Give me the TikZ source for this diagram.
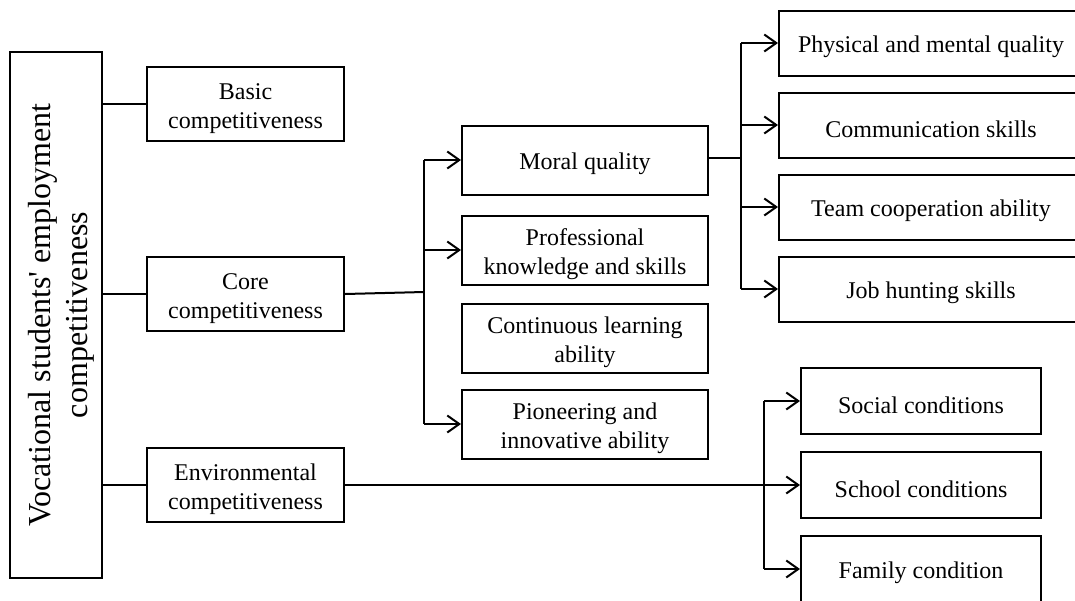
\documentclass[tikz,border=0pt]{standalone}
\usepackage{fontspec}
\setmainfont{Liberation Serif}
\usetikzlibrary{arrows.meta}
\newcommand{\mysr}{\rule{0pt}{12.5pt}}
\newcommand{\mysrb}{\rule{0pt}{16.5pt}}
\begin{document}
\begin{tikzpicture}[x=0.5pt,y=-0.5pt,
  box/.style={draw,line width=1pt,inner sep=0pt,align=center,font=\fontsize{12}{14.5}\selectfont},
  con/.style={line width=1pt},
  arr/.style={line width=1pt,-{Straight Barb[length=6pt,width=8.5pt,line width=1pt]}}]
\useasboundingbox (0,0) rectangle (1075,600);
\clip (0,0) rectangle (1075,600);
% root
\node[box,rotate=90,minimum width=263pt,minimum height=46pt,font=\fontsize{16}{18.5}\selectfont] (root) at (56,315) {\mysrb Vocational students\textquotesingle{} employment\\competitiveness};
% level 1
\node[box,minimum width=98.5pt,minimum height=37pt] (basic) at (245.5,104) {\mysr Basic\\competitiveness};
\node[box,minimum width=98.5pt,minimum height=37pt] (core) at (245.5,294) {\mysr Core\\competitiveness};
\node[box,minimum width=98.5pt,minimum height=37pt] (env) at (245.5,485) {\mysr Environmental\\competitiveness};
% level 2
\node[box,minimum width=123pt,minimum height=34.5pt] (moral) at (585,160) {\mysr Moral quality};
\node[box,minimum width=123pt,minimum height=34.5pt] (prof) at (585,250) {\mysr Professional\\knowledge and skills};
\node[box,minimum width=123pt,minimum height=34.5pt] (cont) at (585,338) {\mysr Continuous learning\\ability};
\node[box,minimum width=123pt,minimum height=34.5pt] (pion) at (585,424) {\mysr Pioneering and\\innovative ability};
% level 3 (moral)
\node[box,minimum width=152pt,minimum height=32.5pt] (phys) at (931,43) {\mysr Physical and mental quality};
\node[box,minimum width=152pt,minimum height=32.5pt] (comm) at (931,125) {\mysr Communication skills};
\node[box,minimum width=152pt,minimum height=32.5pt] (team) at (931,207) {\mysr Team cooperation ability};
\node[box,minimum width=152pt,minimum height=32.5pt] (job) at (931,289) {\mysr Job hunting skills};
% level 3 (env)
\node[box,minimum width=120pt,minimum height=33pt] (soc) at (921,401) {\mysr Social conditions};
\node[box,minimum width=120pt,minimum height=33pt] (sch) at (921,485) {\mysr School conditions};
\node[box,minimum width=120pt,minimum height=33pt] (fam) at (921,569) {\mysr Family condition};
% root connectors
\draw[con] (root.south |- basic.west) -- (basic.west);
\draw[con] (root.south |- core.west) -- (core.west);
\draw[con] (root.south |- env.west) -- (env.west);
% core connectors
\coordinate (cj) at (424,292);
\draw[con] (core.east) -- (cj);
\draw[con] (cj |- moral.west) -- (cj |- pion.west);
\draw[arr] (cj |- moral.west) -- (moral.west);
\draw[arr] (cj |- prof.west) -- (prof.west);
\draw[arr] (cj |- pion.west) -- (pion.west);
% moral connectors
\coordinate (mj) at (741,158);
\draw[con] (moral.east |- mj) -- (mj);
\draw[con] (mj |- phys.west) -- (mj |- job.west);
\draw[arr] (mj |- phys.west) -- (phys.west);
\draw[arr] (mj |- comm.west) -- (comm.west);
\draw[arr] (mj |- team.west) -- (team.west);
\draw[arr] (mj |- job.west) -- (job.west);
% env connectors
\coordinate (ej) at (764,485);
\draw[arr] (env.east) -- (sch.west);
\draw[con] (ej |- soc.west) -- (ej |- fam.west);
\draw[arr] (ej |- soc.west) -- (soc.west);
\draw[arr] (ej |- fam.west) -- (fam.west);
\end{tikzpicture}
\end{document}
